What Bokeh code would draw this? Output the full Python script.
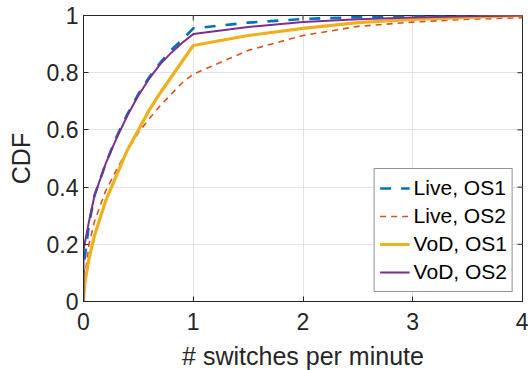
import math
from bokeh.plotting import figure
from bokeh.models import FixedTicker, Range1d, Legend, LegendItem
from bokeh.embed import file_html
from bokeh.resources import INLINE

# ---- data ----
x_live_os1 = [0, 0, 0.05, 0.1, 0.2, 0.3, 0.4, 0.5, 0.6, 0.7, 0.8, 0.9, 1.0, 1.5, 2.0, 2.5, 3.0, 3.5, 4.0]
y_live_os1 = [0, 0.12, 0.27, 0.37, 0.48, 0.575, 0.655, 0.725, 0.785, 0.835, 0.88, 0.915, 0.955, 0.975, 0.988, 0.994, 0.997, 0.999, 1.0]

x_live_os2 = [0, 0.01, 0.05, 0.1, 0.2, 0.3, 0.4, 0.5, 0.6, 0.7, 0.8, 0.9, 1.0, 1.5, 2.0, 2.5, 3.0, 3.5, 4.0]
y_live_os2 = [0, 0.08, 0.2, 0.28, 0.385, 0.46, 0.53, 0.59, 0.64, 0.685, 0.725, 0.765, 0.795, 0.878, 0.93, 0.962, 0.977, 0.987, 0.992]

x_vod_os1 = [0, 0.01, 0.05, 0.1, 0.2, 0.3, 0.4, 0.5, 0.6, 0.7, 0.8, 0.9, 1.0, 1.5, 2.0, 2.5, 3.0, 3.5, 4.0]
y_vod_os1 = [0, 0.06, 0.15, 0.23, 0.35, 0.44, 0.53, 0.6, 0.67, 0.73, 0.785, 0.84, 0.895, 0.93, 0.955, 0.975, 0.986, 0.993, 1.0]

x_vod_os2 = [0, 0, 0.05, 0.1, 0.2, 0.3, 0.4, 0.5, 0.6, 0.7, 0.8, 0.9, 1.0, 1.5, 2.0, 2.5, 3.0, 3.5, 4.0]
y_vod_os2 = [0, 0.18, 0.28, 0.37, 0.48, 0.57, 0.65, 0.72, 0.78, 0.83, 0.87, 0.905, 0.935, 0.96, 0.977, 0.987, 0.993, 0.997, 1.0]

x_ticks = [0, 1, 2, 3, 4]
y_ticks = [0, 0.2, 0.4, 0.6, 0.8, 1]
y_tick_labels = {0: "0", 0.2: "0.2", 0.4: "0.4", 0.6: "0.6", 0.8: "0.8", 1: "1"}
x_min, x_max = 0, 4
y_min, y_max = 0, 1

FONT = "Liberation Sans"
DARK = "#262626"

p = figure(frame_width=439, frame_height=286, output_backend="svg", toolbar_location=None,
           x_range=Range1d(x_min, x_max), y_range=Range1d(y_min, y_max),
           min_border_left=83, min_border_right=6, min_border_top=15, min_border_bottom=69)
p.outline_line_color = DARK
p.outline_line_width = 1
p.outline_line_alpha = 1
p.background_fill_color = "white"
p.border_fill_color = "white"

for ax in (p.xaxis[0], p.yaxis[0]):
    ax.axis_line_color = DARK
    ax.major_tick_line_color = DARK
    ax.major_tick_in = 5
    ax.major_tick_out = 0
    ax.minor_tick_line_color = None
    ax.major_label_text_font = FONT
    ax.major_label_text_font_size = "23px"
    ax.major_label_text_color = DARK
    ax.axis_label_text_font = FONT
    ax.axis_label_text_font_size = "25px"
    ax.axis_label_text_font_style = "normal"
    ax.axis_label_text_color = DARK

p.xaxis.ticker = FixedTicker(ticks=x_ticks)
p.yaxis.ticker = FixedTicker(ticks=y_ticks)
p.yaxis.major_label_overrides = y_tick_labels
p.xaxis.axis_label = "# switches per minute"
p.yaxis.axis_label = "CDF"
p.xaxis.major_label_standoff = 11
p.yaxis.major_label_standoff = 5
p.xaxis.axis_label_standoff = 9
p.yaxis.axis_label_standoff = 9

p.xgrid.ticker = FixedTicker(ticks=x_ticks)
p.ygrid.ticker = FixedTicker(ticks=y_ticks)
p.grid.grid_line_color = "#e3e3e3"
p.grid.grid_line_width = 1

# inward ticks on the top and right edges of the box
p.ray(x=x_ticks, y=[y_max] * len(x_ticks), length=5, length_units="screen",
      angle=-math.pi / 2, line_color=DARK, line_width=1)
p.ray(x=[x_max] * len(y_ticks), y=y_ticks, length=5, length_units="screen",
      angle=math.pi, line_color=DARK, line_width=1)

r1 = p.line(x_live_os1, y_live_os1, line_color="#0072BD", line_width=2.6, line_dash="11 10")
r2 = p.line(x_live_os2, y_live_os2, line_color="#D95319", line_width=1.6, line_dash="6 5")
r3 = p.line(x_vod_os1, y_vod_os1, line_color="#EDB120", line_width=3.2)
r4 = p.line(x_vod_os2, y_vod_os2, line_color="#7E2F8E", line_width=2)

legend = Legend(items=[
    LegendItem(label="Live, OS1", renderers=[r1]),
    LegendItem(label="Live, OS2", renderers=[r2]),
    LegendItem(label="VoD, OS1", renderers=[r3]),
    LegendItem(label="VoD, OS2", renderers=[r4]),
], location="bottom_right")
legend.margin = 9
legend.padding = 5
legend.spacing = 0
legend.glyph_width = 30
legend.glyph_height = 28
legend.label_height = 28
legend.label_standoff = 4
legend.label_text_font = FONT
legend.label_text_font_size = "21px"
legend.label_text_color = "black"
legend.border_line_color = DARK
legend.border_line_width = 1
legend.background_fill_color = "white"
legend.background_fill_alpha = 1
p.add_layout(legend, "center")

open("out.html", "w").write(file_html(p, INLINE))
